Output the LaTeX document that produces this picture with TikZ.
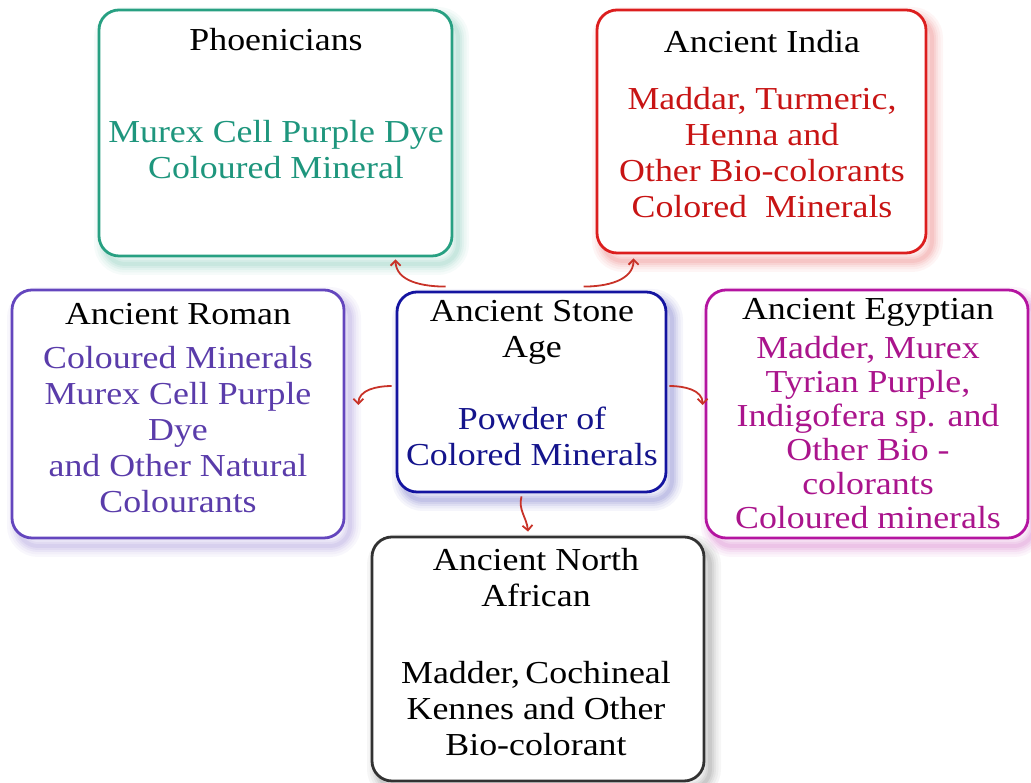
\documentclass[tikz,border=0pt]{standalone}
\usepackage{fontspec}
\setmainfont{Liberation Serif}[FakeStretch=1.12]
\usetikzlibrary{arrows.meta}
\definecolor{tealB}{RGB}{40,160,130}
\definecolor{tealT}{RGB}{30,150,125}
\definecolor{redB}{RGB}{220,30,30}
\definecolor{redT}{RGB}{200,20,20}
\definecolor{purB}{RGB}{100,70,190}
\definecolor{purT}{RGB}{90,60,170}
\definecolor{bluB}{RGB}{20,20,160}
\definecolor{bluT}{RGB}{20,20,140}
\definecolor{magB}{RGB}{180,20,160}
\definecolor{magT}{RGB}{170,20,140}
\definecolor{blkB}{RGB}{50,50,50}
\definecolor{arrowred}{RGB}{200,50,40}
\tikzset{
  glowstep/.style n args={3}{preaction={draw=#1!60, line width=#2, opacity=#3, transform canvas={shift={(6pt,-8pt)}}}},
  box/.style={draw=#1, line width=2.8pt, rounded corners=20pt, fill=white, inner sep=0pt,
    glowstep={#1}{22pt}{0.07}, glowstep={#1}{17pt}{0.08}, glowstep={#1}{12pt}{0.1},
    glowstep={#1}{8pt}{0.12}, glowstep={#1}{4pt}{0.15}},
  txt/.style={align=center, inner sep=0pt, font=\fontsize{32}{36}\selectfont},
  link/.style={draw=arrowred, line width=1.8pt, -{Straight Barb[length=5pt,width=10pt]}}
}
\begin{document}
\begin{tikzpicture}[x=1pt,y=1pt]
\useasboundingbox (0,0) rectangle (1031,783);
% boxes
\node[box=tealB, minimum width=353pt, minimum height=246pt] (phoen) at (275.5,650) {};
\node[box=redB, minimum width=329pt, minimum height=243pt] (india) at (761.5,651.5) {};
\node[box=purB, minimum width=332pt, minimum height=248pt] (roman) at (178,369) {};
\node[box=bluB, minimum width=269pt, minimum height=200pt] (stone) at (531.5,391) {};
\node[box=magB, minimum width=322pt, minimum height=248pt] (egypt) at (867,369) {};
\node[box=blkB, minimum width=332pt, minimum height=244pt] (africa) at (538,124) {};
% texts
\node[txt] (phoenT) at (276,743) {Phoenicians};
\node[txt, text=tealT] (phoenB) at (276,633) {Murex Cell Purple Dye\\Coloured Mineral};
\node[txt] (indiaT) at (762,741) {Ancient India};
\node[txt, text=redT] (indiaB) at (762,630) {Maddar, Turmeric,\\Henna and\\Other Bio-colorants\\Colored\ \ Minerals};
\node[txt] (romanT) at (178,469) {Ancient Roman};
\node[txt, text=purT] (romanB) at (178,353) {Coloured Minerals\\Murex Cell Purple\\Dye\\and Other Natural\\Colourants};
\node[txt] (stoneT) at (532,451) {Ancient Stone\\Age};
\node[txt, text=bluT] (stoneB) at (532,346.5) {Powder of\\Colored Minerals};
\node[txt] (egyptT) at (868,471) {Ancient Egyptian};
\node[txt, text=magT, font=\fontsize{32}{34}\selectfont] (egyptB) at (868,350) {Madder, Murex\\Tyrian Purple,\\Indigofera sp. and\\Other Bio -\\colorants\\Coloured minerals};
\node[txt] (africaT) at (536,205) {Ancient North\\African};
\node[txt] (africaB) at (536,74) {Madder,\,Cochineal\\Kennes and Other\\Bio-colorant};
% connectors
\coordinate (s1) at ([xshift=50pt,yshift=4pt]stone.north west);
\coordinate (e1) at ([xshift=298pt,yshift=-2pt]phoen.south west);
\coordinate (s2) at ([xshift=188pt,yshift=4pt]stone.north west);
\coordinate (e2) at ([xshift=38pt,yshift=-4pt]india.south west);
\coordinate (s3) at ([xshift=-4pt,yshift=6pt]stone.west);
\coordinate (e3) at ([xshift=13pt,yshift=9pt]roman.east);
\coordinate (s4) at ([xshift=2pt,yshift=6pt]stone.east);
\coordinate (e4) at ([xshift=-2pt,yshift=9pt]egypt.west);
\coordinate (s5) at ([xshift=-10pt,yshift=-3pt]stone.south);
\coordinate (e5) at ([xshift=-10pt,yshift=4pt]africa.north);
\draw[link] (s1) to[out=180,in=-90] (e1);
\draw[link] (s2) to[out=0,in=-90] (e2);
\draw[link] (s3) to[out=180,in=90] (e3);
\draw[link] (s4) to[out=0,in=90] (e4);
\draw[link] (s5) to[out=-105,in=95] (e5);
\end{tikzpicture}
\end{document}
